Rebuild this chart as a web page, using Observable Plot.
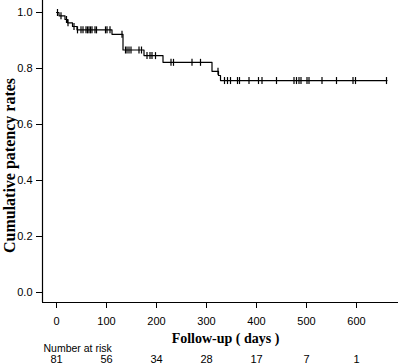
<!DOCTYPE html>
<html>
<head>
<meta charset="utf-8">
<script src="https://cdn.jsdelivr.net/npm/d3@7"></script>
<script src="https://cdn.jsdelivr.net/npm/@observablehq/plot@0.6"></script>
<style>
  html, body { margin: 0; padding: 0; background: #fff; }
</style>
</head>
<body>
<div id="chart"></div>
<script>
// Kaplan-Meier step curve
const stepDays = [0, 5, 17, 22, 32, 41, 111, 133, 175, 213, 311, 324, 328, 661];
const stepSurv = [1, 0.988, 0.975, 0.963, 0.950, 0.938, 0.922, 0.866, 0.846, 0.822, 0.790, 0.775, 0.757, 0.757];

// Censored observations (days)
const censorDays = [2, 9, 20, 23, 35, 42, 49, 53, 59, 62, 65, 68, 71, 77, 80, 98, 101, 107,
  131, 138, 141, 145, 149, 165, 170, 181, 187, 191, 198, 229, 234, 271, 288, 323,
  336, 342, 348, 362, 366, 385, 404, 411, 440, 475, 480, 485, 489, 501, 505, 531,
  560, 593, 598, 660];

// Axes
const xTicks = [0, 100, 200, 300, 400, 500, 600];
const yTicks = [0, 0.2, 0.4, 0.6, 0.8, 1.0];

// Number at risk
const riskDays = [0, 100, 200, 300, 400, 500, 600];
const riskCounts = [81, 56, 34, 28, 17, 7, 1];

const xTitle = "Follow-up ( days )";
const yTitle = "Cumulative patency rates";
const riskTitle = "Number at risk";

function survAt(t) {
  let s = stepSurv[0];
  for (let i = 0; i < stepDays.length; i++) if (stepDays[i] <= t) s = stepSurv[i];
  return s;
}

const curve = stepDays.map((d, i) => ({day: d, surv: stepSurv[i]}));
const risk = riskDays.map((d, i) => ({day: d, n: riskCounts[i]}));

const vbar = {
  draw(ctx, size) {
    const h = Math.sqrt(size / Math.PI);
    ctx.moveTo(0, -h);
    ctx.lineTo(0, h);
  }
};

const serif = "'Liberation Serif', 'Times New Roman', serif";
const sans = "'Liberation Sans', Arial, sans-serif";

const xDom = [-28, 684];
const yDom = [-10 / 280, 292 / 280];

const chart = Plot.plot({
  width: 400,
  height: 364,
  marginLeft: 42,
  marginRight: 2,
  marginTop: 0,
  marginBottom: 62,
  style: {fontFamily: sans, fontSize: "11px", color: "black", background: "white", overflow: "visible"},
  x: {domain: xDom},
  y: {domain: yDom},
  marks: [
    Plot.ruleX([xDom[0]], {stroke: "black", strokeWidth: 1.2}),
    Plot.ruleY([yDom[0]], {stroke: "black", strokeWidth: 1.2}),
    Plot.axisX({ticks: xTicks, tickSize: 6, tickPadding: 9, label: null, stroke: "black", fill: "black"}),
    Plot.axisY({ticks: yTicks, tickFormat: d3.format(".1f"), tickSize: 6, tickPadding: 4, label: null, stroke: "black", fill: "black"}),
    Plot.line(curve, {x: "day", y: "surv", curve: "step-after", stroke: "black", strokeWidth: 1.2}),
    Plot.dot(censorDays, {x: d => d, y: d => survAt(d), symbol: vbar, r: 3.5, fill: "none", stroke: "black", strokeWidth: 1.2}),
    Plot.text([yTitle], {text: d => d, frameAnchor: "left", textAnchor: "middle", rotate: -90, dx: -33, dy: 14,
      fontFamily: serif, fontWeight: "bold", fontSize: 16, fill: "black"}),
    Plot.text([xTitle], {text: d => d, frameAnchor: "bottom", textAnchor: "middle", dx: 5, dy: 40,
      fontFamily: serif, fontWeight: "bold", fontSize: 14, fill: "black"}),
    Plot.text([riskTitle], {text: d => d, frameAnchor: "bottom-left", textAnchor: "start", dx: 1, dy: 49,
      fontFamily: sans, fontSize: 10.5, fill: "black"}),
    Plot.text(risk, {x: "day", text: "n", frameAnchor: "bottom", textAnchor: "middle", dy: 60,
      fontFamily: sans, fontSize: 11, fill: "black"})
  ]
});

document.getElementById("chart").appendChild(chart);
</script>
</body>
</html>
